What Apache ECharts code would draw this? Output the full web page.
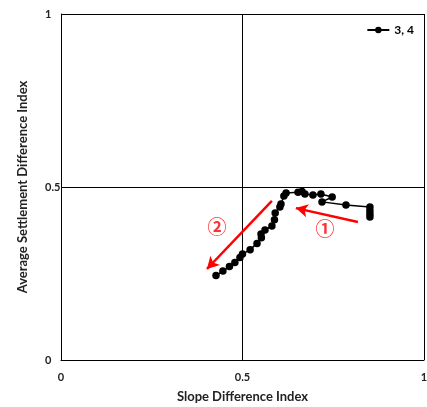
<!DOCTYPE html>
<html>
<head>
<meta charset="utf-8">
<script src="https://cdn.jsdelivr.net/npm/echarts@6/dist/echarts.min.js"></script>
<style>
  html, body { margin: 0; padding: 0; background: #fff; }
  #chart { width: 427px; height: 407px; }
</style>
</head>
<body>
<div id="chart"></div>
<script>
// Path of case "3, 4": slope difference index vs average settlement difference index
const slopeIndex = [
  0.851, 0.851, 0.851, 0.851, 0.785, 0.719, 0.747, 0.716, 0.694, 0.672,
  0.664, 0.653, 0.620, 0.614, 0.606, 0.603, 0.590, 0.588, 0.581, 0.562,
  0.551, 0.552, 0.540, 0.521, 0.500, 0.493, 0.479, 0.464, 0.446, 0.427
];
const settlementIndex = [
  0.413, 0.422, 0.431, 0.442, 0.448, 0.457, 0.471, 0.480, 0.477, 0.480,
  0.487, 0.485, 0.483, 0.474, 0.451, 0.442, 0.425, 0.405, 0.387, 0.376,
  0.364, 0.353, 0.337, 0.319, 0.306, 0.296, 0.282, 0.270, 0.257, 0.244
];
const seriesName = '3, 4';
const axisTicks = [0, 0.5, 1];

// Direction arrows (tail -> head) and their step labels
const arrowOne = [[0.818, 0.399], [0.647, 0.439]];
const arrowTwo = [[0.581, 0.460], [0.402, 0.263]];
const stepLabels = [
  { name: '①', pos: [0.727, 0.379] },
  { name: '②', pos: [0.430, 0.384] }
];

const pathData = slopeIndex.map((x, i) => [x, settlementIndex[i]]);
const axisFont = 'Lato, "Open Sans", sans-serif';

const chart = echarts.init(document.getElementById('chart'));
chart.setOption({
  animation: false,
  backgroundColor: '#fff',
  grid: { left: 61, right: 3, top: 14, bottom: 47, outerBoundsMode: 'none', containLabel: false },
  legend: {
    right: 8, top: 19,
    itemWidth: 22, itemHeight: 8, itemGap: 4,
    textStyle: { fontFamily: axisFont, fontWeight: 'bold', fontSize: 12, color: '#000' },
    data: [seriesName]
  },
  xAxis: {
    type: 'value', min: axisTicks[0], max: axisTicks[2], interval: 0.5,
    name: 'Slope Difference Index', nameLocation: 'middle', nameGap: 30,
    nameTextStyle: { fontFamily: axisFont, fontWeight: 'bold', fontSize: 13, color: '#222' },
    axisLine: { show: true, lineStyle: { color: '#000', width: 1 } },
    axisTick: { show: false },
    splitLine: { show: true, lineStyle: { color: '#000', width: 1 } },
    axisLabel: {
      margin: 12, color: '#222', fontFamily: axisFont, fontWeight: 'bold', fontSize: 11,
      formatter: v => String(v)
    }
  },
  yAxis: {
    type: 'value', min: axisTicks[0], max: axisTicks[2], interval: 0.5,
    name: 'Average Settlement Difference Index', nameLocation: 'middle', nameGap: 32,
    nameTextStyle: { fontFamily: axisFont, fontWeight: 'bold', fontSize: 13, color: '#222' },
    axisLine: { show: true, lineStyle: { color: '#000', width: 1 } },
    axisTick: { show: false },
    splitLine: { show: true, lineStyle: { color: '#000', width: 1 } },
    axisLabel: {
      margin: 16, align: 'left', color: '#222', fontFamily: axisFont, fontWeight: 'bold', fontSize: 11,
      formatter: v => String(v)
    }
  },
  series: [
    {
      name: seriesName,
      type: 'line',
      data: pathData,
      symbol: 'circle',
      symbolSize: 7.5,
      itemStyle: { color: '#000' },
      lineStyle: { color: '#000', width: 1.5 },
      z: 3
    },
    {
      type: 'scatter',
      data: stepLabels.map(s => ({ name: s.name, value: s.pos })),
      symbolSize: 0,
      silent: true,
      label: {
        show: true, position: 'inside', formatter: p => p.name,
        color: '#ff0000', fontSize: 19, fontWeight: 'bold',
        fontFamily: '"Noto Sans CJK SC", sans-serif'
      },
      markLine: {
        silent: true,
        symbol: ['none', 'arrow'],
        symbolSize: [10, 12],
        label: { show: false },
        lineStyle: { color: '#ff0000', width: 2.5, type: 'solid' },
        data: [
          [{ coord: arrowOne[0] }, { coord: arrowOne[1] }],
          [{ coord: arrowTwo[0] }, { coord: arrowTwo[1] }]
        ]
      }
    }
  ]
});
</script>
</body>
</html>
